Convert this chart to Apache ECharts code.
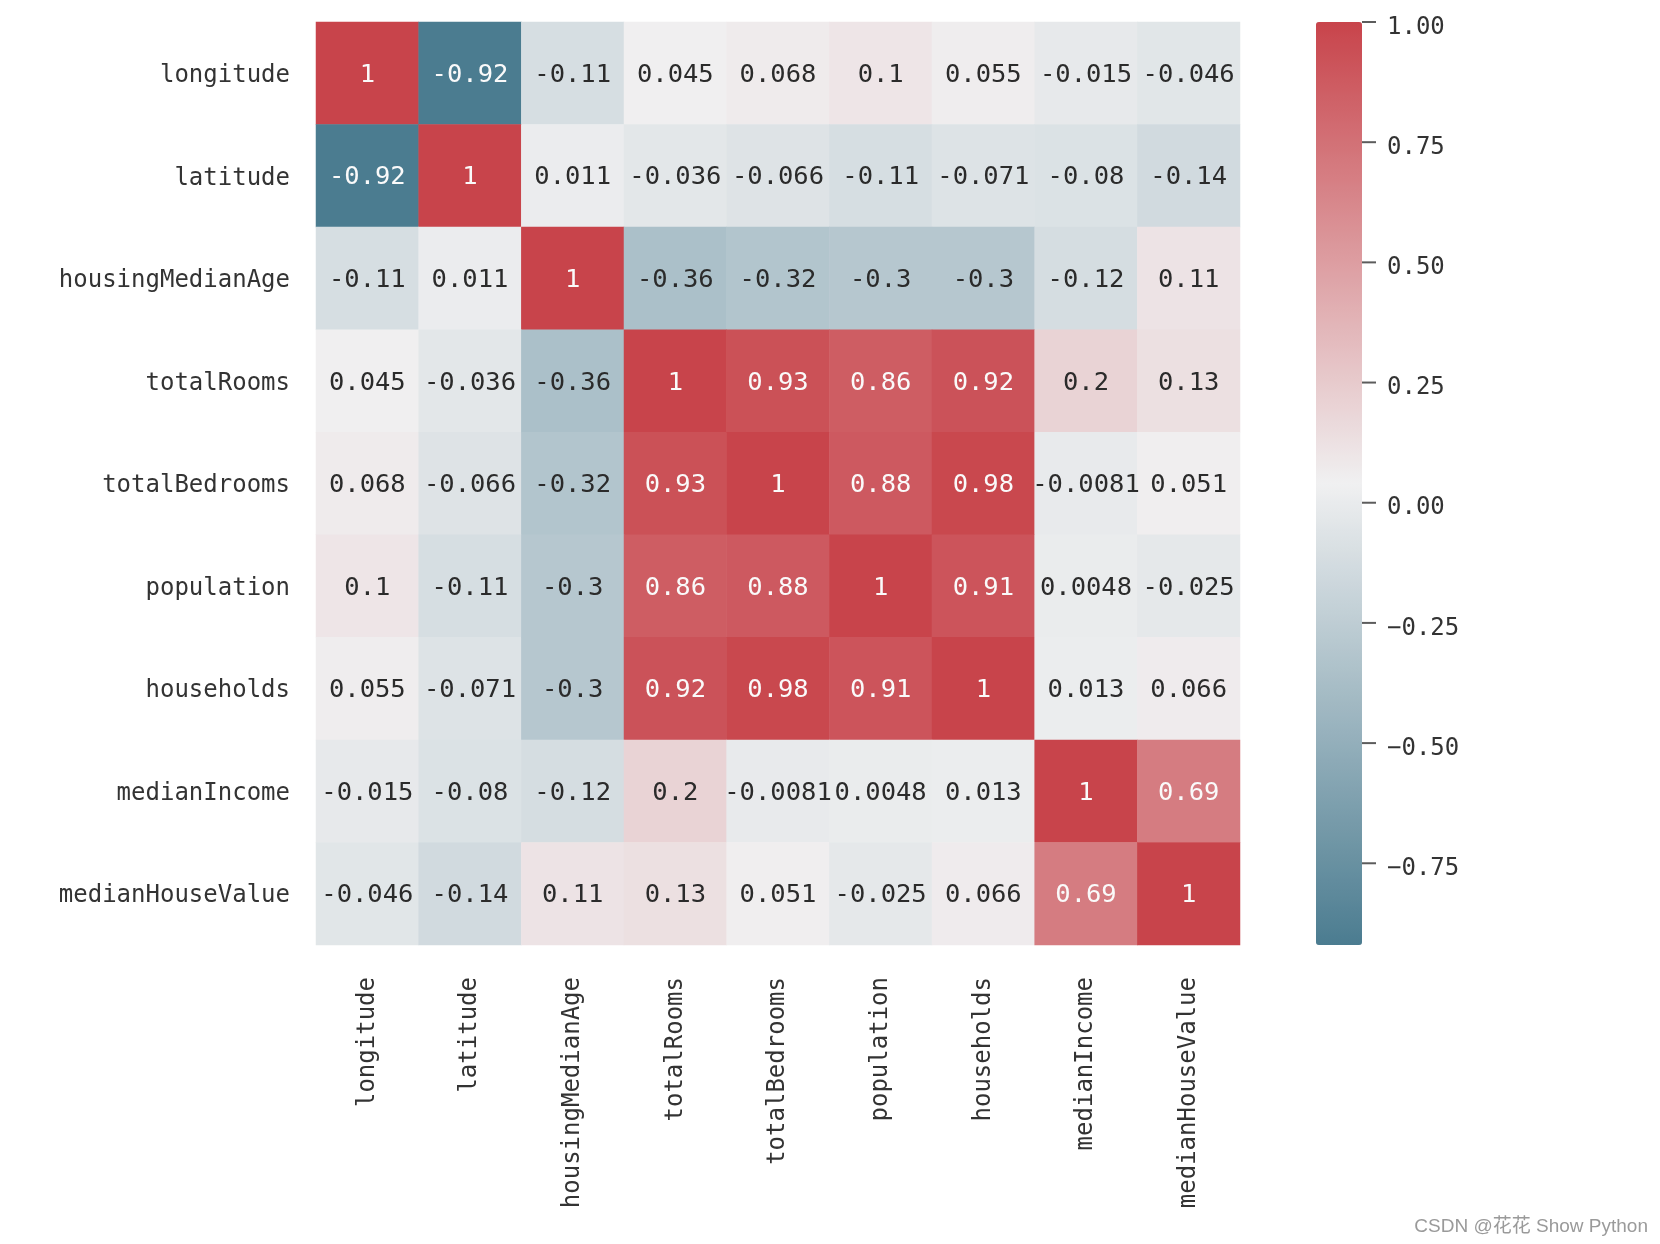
<!DOCTYPE html>
<html><head><meta charset="utf-8">
<script src="https://cdn.jsdelivr.net/npm/echarts@6/dist/echarts.min.js"></script>
<style>html,body{margin:0;padding:0;background:#fff}#c{width:1660px;height:1244px}</style>
</head><body><div id="c"></div>
<script>
const features = ['longitude','latitude','housingMedianAge','totalRooms','totalBedrooms','population','households','medianIncome','medianHouseValue'];
const rowLongitude        = [1, -0.92, -0.11, 0.045, 0.068, 0.1, 0.055, -0.015, -0.046];
const rowLatitude         = [-0.92, 1, 0.011, -0.036, -0.066, -0.11, -0.071, -0.08, -0.14];
const rowHousingMedianAge = [-0.11, 0.011, 1, -0.36, -0.32, -0.3, -0.3, -0.12, 0.11];
const rowTotalRooms       = [0.045, -0.036, -0.36, 1, 0.93, 0.86, 0.92, 0.2, 0.13];
const rowTotalBedrooms    = [0.068, -0.066, -0.32, 0.93, 1, 0.88, 0.98, -0.0081, 0.051];
const rowPopulation       = [0.1, -0.11, -0.3, 0.86, 0.88, 1, 0.91, 0.0048, -0.025];
const rowHouseholds       = [0.055, -0.071, -0.3, 0.92, 0.98, 0.91, 1, 0.013, 0.066];
const rowMedianIncome     = [-0.015, -0.08, -0.12, 0.2, -0.0081, 0.0048, 0.013, 1, 0.69];
const rowMedianHouseValue = [-0.046, -0.14, 0.11, 0.13, 0.051, -0.025, 0.066, 0.69, 1];
const colorbarTicks = [1, 0.75, 0.5, 0.25, 0, -0.25, -0.5, -0.75];

const matrix = [rowLongitude, rowLatitude, rowHousingMedianAge, rowTotalRooms, rowTotalBedrooms,
                rowPopulation, rowHouseholds, rowMedianIncome, rowMedianHouseValue];
const flat = matrix.flat();
const vmin = Math.min(...flat), vmax = Math.max(...flat);
const data = [];
matrix.forEach((row, r) => row.forEach((v, c) => {
  data.push({ value: [c, r, v], label: { color: (v >= 0.5 || v <= -0.6) ? '#fafafa' : '#2b2b2b' } });
}));
const tickData = colorbarTicks.map(t => [1, t]);
const mono = "'DejaVu Sans Mono', monospace";
const chart = echarts.init(document.getElementById('c'));
chart.setOption({
  animation: false,
  backgroundColor: '#ffffff',
  grid: [
    { left: 316, top: 22, width: 924, height: 923 },
    { left: 1316, top: 22, width: 46, height: 923 }
  ],
  xAxis: [
    { type: 'category', data: features, gridIndex: 0, position: 'bottom',
      axisLine: { show: false }, axisTick: { show: false }, splitLine: { show: false },
      axisLabel: { rotate: 90, margin: 32, fontSize: 24, fontFamily: mono, color: '#333', interval: 0 } },
    { type: 'value', gridIndex: 1, min: 0, max: 1, show: false }
  ],
  yAxis: [
    { type: 'category', data: features, inverse: true, gridIndex: 0,
      axisLine: { show: false }, axisTick: { show: false }, splitLine: { show: false },
      axisLabel: { margin: 26, fontSize: 24, fontFamily: mono, color: '#333', interval: 0,
        verticalAlign: 'top', lineHeight: 5 } },
    { type: 'value', gridIndex: 1, position: 'right', min: vmin, max: vmax,
      axisLine: { show: false }, splitLine: { show: false }, axisTick: { show: false },
      axisLabel: { customValues: colorbarTicks, margin: 25, fontSize: 24, fontFamily: mono, color: '#333',
        verticalAlign: 'top', lineHeight: 11,
        formatter: v => (v < 0 ? '\u2212' : '') + Math.abs(v).toFixed(2) } }
  ],
  visualMap: {
    type: 'continuous', seriesIndex: 0, min: vmin, max: vmax, calculable: false, hoverLink: false,
    orient: 'vertical', left: 1316, top: 22, itemWidth: 46, itemHeight: 923, padding: 0,
    inRange: { color: ['#4b7c90', '#f0f0f1', '#c8444b'] }
  },
  series: [{
    type: 'heatmap', xAxisIndex: 0, yAxisIndex: 0, data: data,
    label: { show: true, fontSize: 25.5, fontFamily: mono, offset: [0, 2], formatter: p => String(p.value[2]) },
    itemStyle: { borderWidth: 0 },
    emphasis: { disabled: true }
  }, {
    type: 'scatter', xAxisIndex: 1, yAxisIndex: 1, data: tickData, silent: true, z: 10,
    symbol: 'rect', symbolSize: [14, 2], symbolOffset: [7, 0],
    itemStyle: { color: '#333' }
  }],
  graphic: [{
    type: 'text', right: 12, bottom: 8,
    style: { text: 'CSDN @花花 Show Python', fontSize: 19, fill: '#9a9a9a',
      fontFamily: "'Liberation Sans','Noto Sans CJK SC',sans-serif" }
  }]
});
</script></body></html>
